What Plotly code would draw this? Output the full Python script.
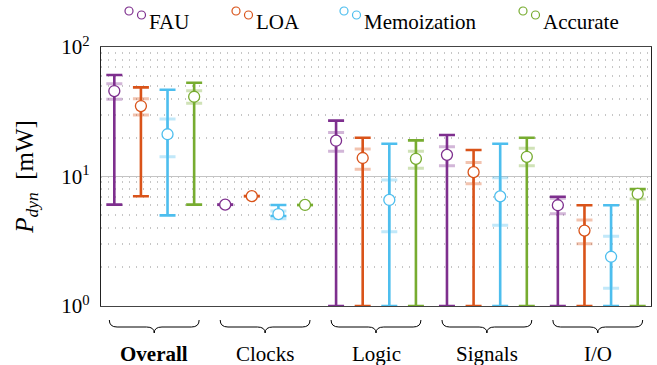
import plotly.graph_objects as go

groups = ["Overall", "Clocks", "Logic", "Signals", "I/O"]
series = ["FAU", "LOA", "Memoization", "Accurate"]
colors = ["#7E2F8E", "#D95319", "#4DBEEE", "#77AC30"]
light = ["rgba(126,47,142,0.35)", "rgba(217,83,25,0.35)", "rgba(77,190,238,0.35)", "rgba(119,172,48,0.35)"]

fau_mid = [45.7, 6.06, 18.9, 14.7, 6.0]
fau_max = [60.8, 6.06, 27.0, 20.9, 6.98]
fau_min = [6.06, 6.06, 1.0, 1.0, 1.0]
fau_q3 = [52.1, 6.06, 21.9, 17.0, 6.8]
fau_q1 = [39.5, 6.06, 15.7, 12.1, 5.16]

loa_mid = [35.0, 7.05, 13.9, 10.8, 3.82]
loa_max = [48.8, 7.05, 19.9, 16.0, 6.0]
loa_min = [7.03, 7.05, 1.0, 1.0, 1.0]
loa_q3 = [39.9, 7.05, 16.3, 12.8, 4.61]
loa_q1 = [29.8, 7.05, 11.4, 8.80, 3.03]

memo_mid = [21.2, 5.13, 6.59, 7.03, 2.40]
memo_max = [46.8, 6.03, 17.9, 17.9, 6.0]
memo_min = [5.01, 4.95, 1.0, 1.0, 1.0]
memo_q3 = [27.8, 5.41, 9.40, 9.79, 3.45]
memo_q1 = [14.2, 4.72, 3.75, 4.20, 1.37]

acc_mid = [41.3, 6.03, 13.7, 14.2, 7.33]
acc_max = [53.0, 6.03, 19.0, 19.9, 8.0]
acc_min = [6.06, 6.03, 1.0, 1.0, 1.0]
acc_q3 = [46.0, 6.03, 15.7, 16.5, 7.9]
acc_q1 = [36.8, 6.03, 11.6, 12.1, 6.70]

data = [
    (fau_mid, fau_max, fau_min, fau_q3, fau_q1),
    (loa_mid, loa_max, loa_min, loa_q3, loa_q1),
    (memo_mid, memo_max, memo_min, memo_q3, memo_q1),
    (acc_mid, acc_max, acc_min, acc_q3, acc_q1),
]

SERIF = "Liberation Serif"
W, H = 657, 365
ML, MR, MT, MB = 101, 6, 47, 59
PW, PH = W - ML - MR, H - MT - MB
offset = 0.24

def px2paper_x(px):
    return (px - ML) / PW

def px2paper_y(py):
    return (MT + PH - py) / PH

fig = go.Figure()

for s, (mid, mx, mn, q3, q1) in enumerate(data):
    xs = [g + (s - 1.5) * offset for g in range(len(groups))]
    # light quartile caps
    fig.add_trace(go.Scatter(
        x=xs, y=mid, mode="markers", marker=dict(size=0.1, opacity=0),
        error_y=dict(type="data", symmetric=False,
                     array=[a - b for a, b in zip(q3, mid)],
                     arrayminus=[b - a for a, b in zip(q1, mid)],
                     color=light[s], thickness=3, width=8),
        showlegend=False, hoverinfo="skip", cliponaxis=False))
    # whiskers
    fig.add_trace(go.Scatter(
        x=xs, y=mid, mode="markers", marker=dict(size=0.1, opacity=0),
        error_y=dict(type="data", symmetric=False,
                     array=[a - b for a, b in zip(mx, mid)],
                     arrayminus=[b - a for a, b in zip(mn, mid)],
                     color=colors[s], thickness=2.6, width=8),
        showlegend=False, hoverinfo="skip", cliponaxis=False))
    # centre circles
    fig.add_trace(go.Scatter(
        x=xs, y=mid, mode="markers", name=series[s],
        marker=dict(symbol="circle", size=11, color="white",
                    line=dict(color=colors[s], width=1.3)),
        showlegend=False, cliponaxis=False))

shapes = []
annotations = []

# custom legend: two small open circles + label
legend_x = [129, 236, 344, 523]
for s, name in enumerate(series):
    lx = legend_x[s]
    for dx, dy in [(0, 11), (12.5, 15)]:
        shapes.append(dict(type="circle", xref="paper", yref="paper",
                           xsizemode="pixel", ysizemode="pixel",
                           xanchor=px2paper_x(lx + dx), yanchor=px2paper_y(dy),
                           x0=-4, x1=4, y0=-4, y1=4,
                           line=dict(color=colors[s], width=1.2)))
    annotations.append(dict(text=name, xref="paper", yref="paper",
                            x=px2paper_x(lx + 18), y=px2paper_y(22),
                            xanchor="left", yanchor="middle", showarrow=False,
                            font=dict(family=SERIF, size=21, color="black")))

# braces and group labels
half = 0.405
y_top = px2paper_y(320)
y_mid = px2paper_y(327)
y_tip = px2paper_y(333)
d = 0.07
for g, name in enumerate(groups):
    xa, xb, xm = g - half, g + half, g
    path = (f"M {xa},{y_top} Q {xa},{y_mid} {xa + d},{y_mid} "
            f"L {xm - d},{y_mid} Q {xm},{y_mid} {xm},{y_tip} "
            f"Q {xm},{y_mid} {xm + d},{y_mid} "
            f"L {xb - d},{y_mid} Q {xb},{y_mid} {xb},{y_top}")
    shapes.append(dict(type="path", xref="x", yref="paper", path=path,
                       line=dict(color="black", width=1)))
    label = f"<b>{name}</b>" if g == 0 else name
    annotations.append(dict(text=label, xref="x", yref="paper", x=g,
                            y=px2paper_y(354), xanchor="center", yanchor="middle",
                            showarrow=False,
                            font=dict(family=SERIF, size=21, color="black")))

fig.update_layout(
    width=W, height=H,
    margin=dict(l=ML, r=MR, t=MT, b=MB),
    paper_bgcolor="white", plot_bgcolor="white",
    font=dict(family=SERIF),
    shapes=shapes, annotations=annotations,
    showlegend=False,
    xaxis=dict(range=[-0.48, 4.48], showgrid=False, zeroline=False,
               showticklabels=False, ticks="",
               showline=True, mirror=True, linecolor="#444", linewidth=1.3),
    yaxis=dict(type="log", range=[0, 2],
               tickvals=[1, 10, 100],
               ticktext=["10<sup>0</sup>", "10<sup>1</sup>", "10<sup>2</sup>"],
               tickfont=dict(family=SERIF, size=21, color="black"),
               ticks="", ticklabelstandoff=6,
               showgrid=True, gridcolor="#c4c4c4", gridwidth=1,
               minor=dict(dtick="D1", showgrid=True, gridcolor="#c6c6c6",
                          griddash="1px,6px", gridwidth=1.6, ticks=""),
               showline=True, mirror=True, linecolor="#222", linewidth=1.3,
               zeroline=False,
               title=dict(text="<i>P</i><sub><i>dyn</i></sub>  [mW]",
                          font=dict(family=SERIF, size=25, color="black"),
                          standoff=20)),
)

fig.write_html("out.html")
